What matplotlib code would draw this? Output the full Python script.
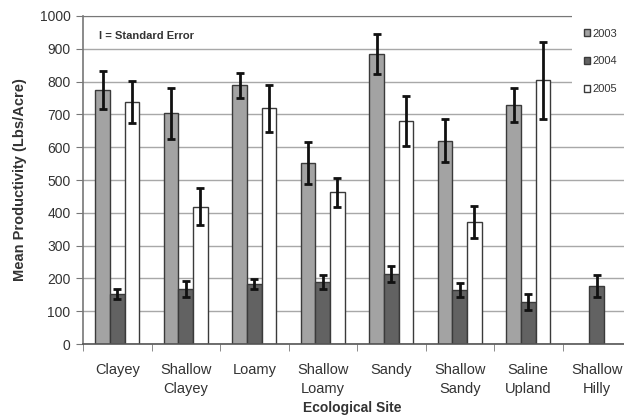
import numpy as np
import matplotlib
matplotlib.use("Agg")
import matplotlib.pyplot as plt
from matplotlib.patches import Rectangle

plt.rcParams['font.family'] = ['Liberation Sans', 'DejaVu Sans']

sites = ['Clayey', 'Shallow\nClayey', 'Loamy', 'Shallow\nLoamy', 'Sandy',
         'Shallow\nSandy', 'Saline\nUpland', 'Shallow\nHilly']
years = ['2003', '2004', '2005']

# mean productivity (nan = no data)
prod_2003 = [775, 703, 789, 551, 884, 620, 729, np.nan]
prod_2004 = [153, 167, 183, 188, 213, 165, 127, 177]
prod_2005 = [738, 419, 718, 462, 681, 373, 804, np.nan]

# standard errors
se_2003 = [58, 78, 38, 64, 62, 66, 51, np.nan]
se_2004 = [15, 24, 15, 21, 25, 21, 24, 33]
se_2005 = [65, 56, 73, 45, 76, 49, 118, np.nan]

colors = ['#a3a3a3', '#626262', '#ffffff']

fig = plt.figure(figsize=(6.24, 4.19), dpi=100)
ax = fig.add_axes([83 / 624, 75 / 419, 548 / 624, 328 / 419])

x = np.arange(len(sites))
w = 0.215
for i, (vals, errs) in enumerate([(prod_2003, se_2003), (prod_2004, se_2004), (prod_2005, se_2005)]):
    ax.bar(x + (i - 1) * w, vals, width=w, color=colors[i], edgecolor='#3a3a3a',
           linewidth=1.0, label=years[i], zorder=2)
    ax.errorbar(x + (i - 1) * w, vals, yerr=errs, fmt='none', ecolor='#111111',
                elinewidth=2, capsize=3, capthick=2, zorder=3)

ax.set_xlim(-0.5, len(sites) - 0.5)
ax.set_ylim(0, 1000)
ax.set_yticks(range(0, 1001, 100))
ax.yaxis.grid(True, color='#a8a8a8', linewidth=1.0, zorder=0)
ax.set_axisbelow(True)

ax.set_xticks(x)
ax.set_xticklabels(sites, fontsize=10.5, color='#333333', linespacing=1.45)
ax.set_xticks(np.arange(-0.5, len(sites)), minor=True)
ax.tick_params(axis='x', which='major', length=0, pad=14)
ax.tick_params(axis='x', which='minor', length=5, color='#777777', direction='out')
ax.tick_params(axis='y', length=5, color='#777777', labelsize=10, labelcolor='#333333', pad=4)

ax.spines['right'].set_visible(False)
ax.spines['top'].set_color('#777777')
ax.spines['left'].set_color('#777777')
ax.spines['bottom'].set_color('#555555')
ax.spines['left'].set_linewidth(1.2)
ax.spines['bottom'].set_linewidth(1.2)

ax.set_ylabel('Mean Productivity (Lbs/Acre)', fontsize=10.5, fontweight='bold', color='#333333', labelpad=9)
ax.set_xlabel('Ecological Site', fontsize=10, fontweight='bold', color='#333333')
ax.xaxis.set_label_coords((352 - 83) / 548, -(401 - 344) / 328)

ax.text(0.03, 0.94, 'I = Standard Error', transform=ax.transAxes, fontsize=8,
        fontweight='bold', color='#333333', va='center')

# white area behind the legend
fig.patches.append(Rectangle((572 / 624, 1 - 100 / 419), 60 / 624, 95 / 419,
                             transform=fig.transFigure, facecolor='white',
                             edgecolor='none', zorder=5))
leg = fig.legend(loc='upper left', bbox_to_anchor=(578 / 624, 1 - 23 / 419), frameon=False,
                 fontsize=8, handlelength=0.6, handleheight=0.6, handletextpad=0.2,
                 labelspacing=1.6, borderpad=0)
leg.set_zorder(6)
for t in leg.get_texts():
    t.set_color('#333333')

fig.savefig('out.png', dpi=100)
